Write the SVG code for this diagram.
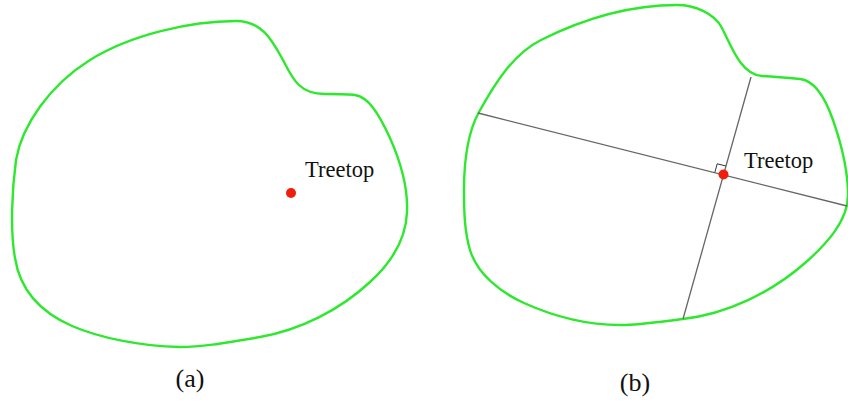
<svg xmlns="http://www.w3.org/2000/svg" width="848" height="402" viewBox="0 0 848 402">
  <style>
    .crown { fill: none; stroke: #2ee82e; stroke-width: 2.4; stroke-linejoin: round; }
    .axis { fill: none; stroke: #666666; stroke-width: 1.3; }
    .mark { fill: none; stroke: #333; stroke-width: 1; }
    .top { fill: #f01e0a; }
    .lbl { font-family: "Liberation Serif", "Times New Roman", serif; fill: #111; }
  </style>
  <rect width="848" height="402" fill="#ffffff"/>

  <!-- panel (a): crown outline with treetop -->
  <g id="panel-a">
    <path class="crown" d="M 236 21
      C 262 21, 272 40, 283 60
      C 293 80, 300 94, 325 94
      C 340 94, 350 94, 355 95
      C 368 97, 378 112, 390 138
      C 402 165, 408 190, 407 212
      C 406 240, 392 262, 370 282
      C 340 310, 300 330, 260 337
      C 220 344, 200 347, 180 347
      C 140 346, 100 338, 72 326
      C 40 312, 20 290, 15 258
      C 10 230, 12 190, 16 160
      C 22 125, 50 85, 90 60
      C 130 35, 190 21, 236 21 Z"/>
    <circle class="top" cx="291" cy="193" r="5"/>
    <text class="lbl" x="305" y="177" font-size="22.5">Treetop</text>
    <text class="lbl" x="190" y="387" font-size="26" text-anchor="middle">(a)</text>
  </g>

  <!-- panel (b): crown outline with the two crossing diameters -->
  <g id="panel-b">
    <path class="crown" d="M 677 5
      C 694 5, 714.4 12.9, 722 28
      C 731.4 46.5, 741.2 75, 762 76
      C 774.7 76.6, 787.4 77.7, 800 79
      C 817.4 80.7, 827.2 103.5, 833 120
      C 841.4 144.1, 848 169.5, 848 195
      C 848 221.8, 825.1 245.3, 805 263
      C 771.4 292.5, 727.4 313.7, 683 319
      C 662.1 321.5, 641 325, 620 325
      C 587.2 325, 553.9 316.5, 524 303
      C 501 292.7, 477.2 274.1, 470 250
      C 464.3 230.8, 464 210, 464 190
      C 464 163.5, 466.2 135.2, 479 112
      C 494.3 84.2, 512.7 54.2, 541 40
      C 582.8 19.1, 630.2 5, 677 5 Z"/>
  </g>

  <g id="connectors">
    <line class="axis" x1="478" y1="113" x2="847" y2="206"/>
    <line class="axis" x1="751" y1="77" x2="683" y2="319"/>
    <path class="mark" d="M 714.8 172.5 L 717.2 163.8 L 725.9 166.0"/>
  </g>

  <g id="treetop-b">
    <circle class="top" cx="723.5" cy="174.5" r="5"/>
    <text class="lbl" x="744" y="168" font-size="22.5">Treetop</text>
    <text class="lbl" x="635" y="391" font-size="26" text-anchor="middle">(b)</text>
  </g>
</svg>
